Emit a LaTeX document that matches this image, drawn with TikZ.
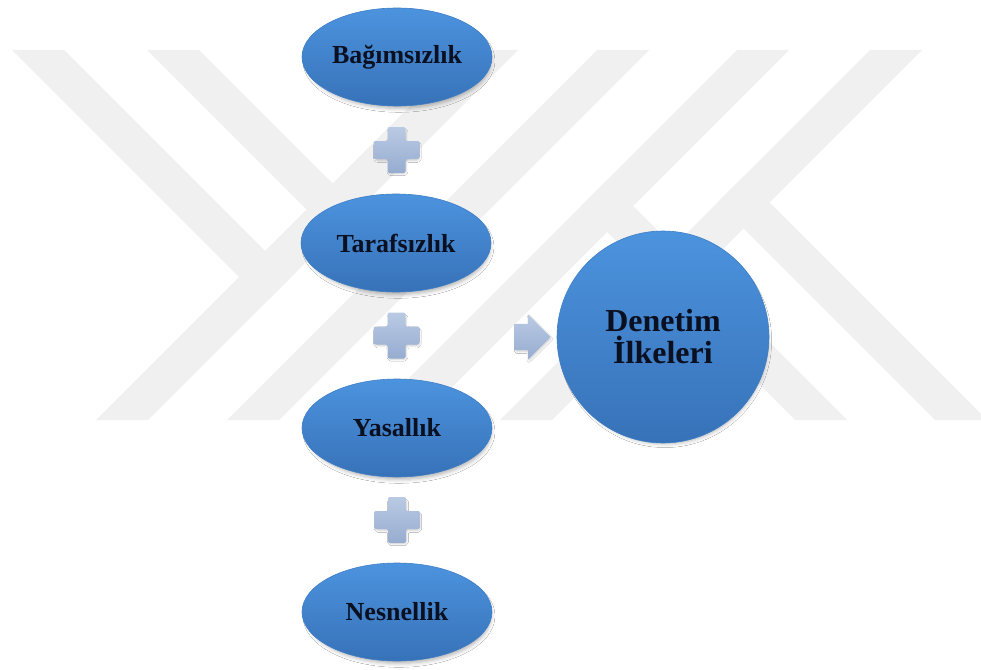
\documentclass[tikz,border=0pt]{standalone}
\usepackage{fontspec}
\setmainfont{Liberation Serif}
\usetikzlibrary{shapes.geometric,shapes.arrows,shadows.blur,calc}

\definecolor{wmgrey}{RGB}{240,240,240}
\definecolor{bluetop}{RGB}{76,147,222}
\definecolor{bluebot}{RGB}{55,114,184}
\definecolor{blueedge}{RGB}{62,126,198}
\definecolor{plustop}{RGB}{186,202,228}
\definecolor{plusbot}{RGB}{150,172,208}
\definecolor{inktext}{RGB}{10,16,32}

\tikzset{
  wm/.style={fill=wmgrey, draw=none},
  softshadow/.style={blur shadow={shadow xshift=2pt, shadow yshift=-4pt,
      shadow scale=0.97, shadow blur radius=4pt, shadow opacity=30}},
  smallshadow/.style={blur shadow={shadow xshift=1pt, shadow yshift=-2pt,
      shadow scale=0.95, shadow blur radius=2pt, shadow opacity=20}},
  bubble/.style={ellipse, minimum width=190pt, minimum height=98pt, inner sep=0pt,
      top color=bluetop, bottom color=bluebot, draw=blueedge, line width=0.6pt,
      text=inktext, font=\fontsize{26}{28}\selectfont\bfseries, softshadow},
  goal/.style={circle, minimum size=212pt, inner sep=0pt,
      top color=bluetop, bottom color=bluebot, draw=blueedge, line width=0.6pt,
      text=inktext, align=center, font=\fontsize{32}{32}\selectfont\bfseries,
      softshadow},
  plusmark/.style={top color=plustop, bottom color=plusbot, draw=none,
      rounded corners=2pt, smallshadow},
  pics/plussign/.style={code={
      \path[plusmark] (-9,-23) -- (9,-23) -- (9,-9) -- (23,-9) -- (23,9) -- (9,9)
        -- (9,23) -- (-9,23) -- (-9,9) -- (-23,9) -- (-23,-9) -- (-9,-9) -- cycle;}},
  pointer/.style={single arrow, minimum height=36pt, minimum width=45pt,
      inner xsep=0pt, inner ysep=13pt, single arrow head extend=9.5pt,
      single arrow head indent=0pt, draw=none,
      top color=plustop, bottom color=plusbot, smallshadow},
}

\begin{document}
\begin{tikzpicture}[x=1pt, y=-1pt]
  \useasboundingbox (0,0) rectangle (981,669);
  \fill[white] (0,0) rectangle (981,669);

  % watermark: four rising stripes
  \foreach \a in {466,597,737,870}
    \fill[wm] (\a,50) -- (\a+52,50) -- (\a+52-370,420) -- (\a-370,420) -- cycle;
  % falling arms on the left, ending on the rising stripes
  \fill[wm] (12,50) -- (64,50) -- (291,277) -- (265,303) -- cycle;
  \fill[wm] (147,50) -- (199,50) -- (424,275) -- (398,301) -- cycle;
  % falling arms on the right, leaving the rising stripes
  \fill[wm] (717.5,202.5) -- (743.5,176.5) -- (987,420) -- (935,420) -- cycle;
  \fill[wm] (581,206) -- (607,180) -- (847,420) -- (795,420) -- cycle;

  % principles
  \node[bubble] (bag)    at (397,57)  {Bağımsızlık};
  \node[bubble] (taraf)  at (396,243) {Tarafsızlık};
  \node[bubble] (yasal)  at (397,428) {Yasallık};
  \node[bubble] (nesnel) at (397,612) {Nesnellik};

  % plus signs between them
  \pic (plusA) at ($(bag)!0.5!(taraf)$)    {plussign};
  \pic (plusB) at ($(taraf)!0.5!(yasal)$)  {plussign};
  \pic (plusC) at ($(yasal)!0.5!(nesnel)$) {plussign};

  % result
  \node[goal] (ilke) at (663,337) {Denetim\\İlkeleri};
  \node[pointer] (toward) at (526,337) {};
\end{tikzpicture}
\end{document}
